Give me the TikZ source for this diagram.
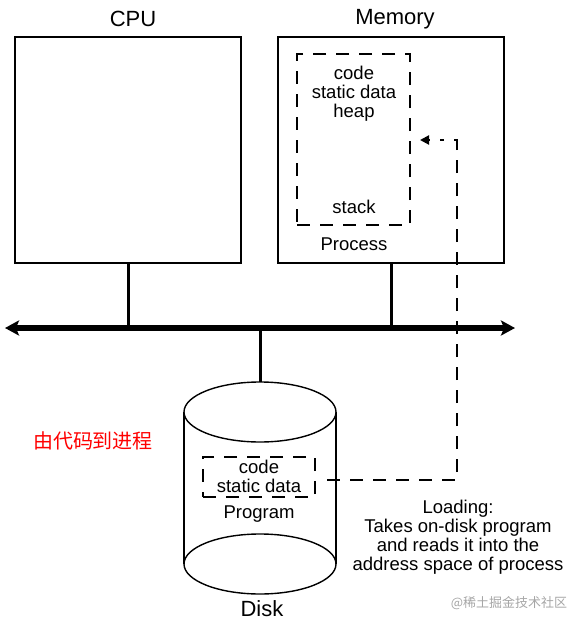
\documentclass[tikz,border=0pt]{standalone}
\usepackage{fontspec}
\setmainfont{Liberation Sans}
\newfontfamily\cjk{Noto Sans CJK SC}
\usetikzlibrary{arrows.meta}
\begin{document}
\begin{tikzpicture}[x=1pt,y=-1pt,
  box/.style={draw,line width=1.6pt,minimum width=226pt,minimum height=226pt,inner sep=0pt},
  dbox/.style={draw,line width=2pt,dash pattern=on 13pt off 10pt,inner sep=0pt},
  title/.style={font=\fontsize{22}{24}\selectfont},
  txt/.style={font=\fontsize{18.5}{19}\selectfont,align=center,inner sep=0pt},
  link/.style={line width=3pt},
  dlink/.style={line width=2pt,dash pattern=on 13pt off 10pt}]
\useasboundingbox (0,0) rectangle (580,627);
% boxes
\node[box] (cpu) at (128,150) {};
\node[box] (mem) at (391,150) {};
\node[title] (cpul) at (133,19) {CPU};
\node[title] (meml) at (395,19) {Memory};
\node[dbox,minimum width=113pt,minimum height=171pt] (proc) at (353.5,139.5) {};
\node[txt] (ptxt) at (354,94) {code\\static data\\heap};
\node[txt] (stack) at (354,207) {stack};
\node[txt] (procl) at (354,244) {Process};
% bus
\coordinate (bl) at (5,328);
\coordinate (br) at (515,328);
\draw[line width=6pt,{Stealth[length=14pt,width=15pt,inset=3pt]}-{Stealth[length=14pt,width=15pt,inset=3pt]}] (bl) -- (br);
\coordinate (cpub) at (128,328);
\coordinate (memb) at (391,328);
\coordinate (diskb) at (260,328);
\coordinate (diskt) at (260,383);
\draw[link] (cpu.south) -- (cpub);
\draw[link] (mem.south) -- (memb);
\draw[link] (diskb) -- (diskt);
% disk
\draw[line width=1.4pt] (184,412) -- (184,564);
\draw[line width=1.4pt] (336,412) -- (336,564);
\draw[line width=1.4pt,fill=white] (260,412) ellipse[x radius=76pt,y radius=30pt];
\draw[line width=1.4pt] (260,564) ellipse[x radius=76pt,y radius=30pt];
\node[dbox,minimum width=112pt,minimum height=40pt] (prog) at (259,477) {};
\node[txt] (progtxt) at (259,476) {code\\static data};
\node[txt] (progl) at (259,514) {Program};
\node[title] (diskl) at (262,609) {Disk};
% loading arrow
\coordinate (s) at (327,480);
\coordinate (c1) at (457,480);
\coordinate (c2) at (457,140);
\coordinate (e) at (440,140);
\coordinate (tip) at (420,140);
\draw[dlink] (s) -- (c1) -- (c2) -- (e);
\draw[-{Triangle[length=9pt,width=9pt]},line width=2pt] (429,140) -- (tip);
\node[txt] (load) at (458,537) {Loading:\\Takes on-disk program\\and reads it into the\\address space of process};
% labels
\node[font=\cjk\fontsize{20}{22}\selectfont,text=red,inner sep=0pt] (title) at (93,441) {由代码到进程};
\node[font=\cjk\fontsize{13}{15}\selectfont,text=black!35,inner sep=0pt] (wm) at (509,603) {@稀土掘金技术社区};
\end{tikzpicture}
\end{document}
